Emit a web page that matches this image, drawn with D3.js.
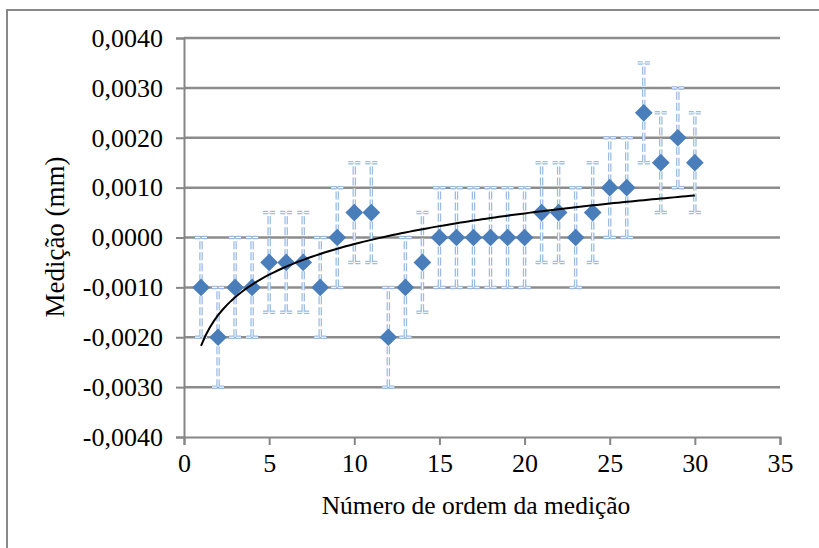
<!DOCTYPE html>
<html>
<head>
<meta charset="utf-8">
<script src="https://cdn.jsdelivr.net/npm/d3@7"></script>
<style>
  html, body { margin: 0; padding: 0; background: #fff; }
</style>
</head>
<body>
<svg id="chart" width="819" height="548"></svg>
<script>
// measurement order
const ordem = d3.range(1, 31);
// measured values (mm)
const medicao = [
  -0.0010, -0.0020, -0.0010, -0.0010, -0.0005, -0.0005, -0.0005, -0.0010, 0.0000, 0.0005,
   0.0005, -0.0020, -0.0010, -0.0005, 0.0000, 0.0000, 0.0000, 0.0000, 0.0000, 0.0000,
   0.0005, 0.0005, 0.0000, 0.0005, 0.0010, 0.0010, 0.0025, 0.0015, 0.0020, 0.0015
];
// error bar half-width (mm)
const erro = 0.0010;
const yTicks = [-0.004, -0.003, -0.002, -0.001, 0, 0.001, 0.002, 0.003, 0.004];
const xTicks = [0, 5, 10, 15, 20, 25, 30, 35];

const FONT = "'Liberation Serif', 'Times New Roman', 'DejaVu Serif', serif";
const svg = d3.select("#chart");

// outer chart border (only top/left visible, rest cropped)
svg.append("rect")
  .attr("x", 7).attr("y", 10)
  .attr("width", 830).attr("height", 560)
  .attr("fill", "none").attr("stroke", "#888").attr("stroke-width", 2);

const x = d3.scaleLinear().domain([0, 35]).range([184, 780]);
const y = d3.scaleLinear().domain([-0.004, 0.004]).range([437, 38]);

const fmt = v => d3.format(".4f")(v).replace(".", ",").replace("−", "-");

// gridlines
svg.append("g").selectAll("line").data(yTicks.filter(v => v !== -0.004)).enter()
  .append("line")
  .attr("x1", x(0)).attr("x2", x(35))
  .attr("y1", d => y(d)).attr("y2", d => y(d))
  .attr("stroke", "#8c8c8c").attr("stroke-width", 2.5);

// y axis
const yAxis = svg.append("g")
  .attr("transform", `translate(${x(0)},0)`)
  .call(d3.axisLeft(y).tickValues(yTicks).tickFormat(fmt).tickSize(8).tickPadding(13));
// x axis
const xAxis = svg.append("g")
  .attr("transform", `translate(0,${y(-0.004)})`)
  .call(d3.axisBottom(x).tickValues(xTicks).tickSize(8).tickPadding(9));

[yAxis, xAxis].forEach(g => {
  g.attr("font-family", null).attr("font-size", null);
  g.select(".domain").attr("stroke", "#868686").attr("stroke-width", 2);
  g.selectAll(".tick line").attr("stroke", "#868686").attr("stroke-width", 2);
  g.selectAll("text")
    .style("font-family", FONT)
    .style("font-size", "26px")
    .attr("fill", "#000");
});

// error bars
const bars = svg.append("g").selectAll("g").data(ordem).enter().append("g");
[["#9bbbe3", 3.5], ["#ffffff", 1]].forEach(([c, w]) => {
  bars.append("line")
    .attr("x1", d => x(d)).attr("x2", d => x(d))
    .attr("y1", (d, i) => y(medicao[i] - erro)).attr("y2", (d, i) => y(medicao[i] + erro))
    .attr("stroke", c).attr("stroke-width", w).attr("stroke-dasharray", "8,3");
  [-1, 1].forEach(s => {
    bars.append("line")
      .attr("x1", d => x(d) - 6).attr("x2", d => x(d) + 6)
      .attr("y1", (d, i) => y(medicao[i] + s * erro)).attr("y2", (d, i) => y(medicao[i] + s * erro))
      .attr("stroke", c).attr("stroke-width", w).attr("stroke-dasharray", "5,2");
  });
});

// diamonds
svg.append("g").selectAll("path").data(ordem).enter()
  .append("path")
  .attr("d", d3.symbol().type(d3.symbolDiamond2).size(200))
  .attr("transform", (d, i) => `translate(${x(d)},${y(medicao[i])})`)
  .attr("fill", "#4a7ebb");

// logarithmic trend line (least squares on ln x)
const lx = ordem.map(Math.log);
const mx = d3.mean(lx), my = d3.mean(medicao);
const b = d3.sum(lx, (v, i) => (v - mx) * (medicao[i] - my)) / d3.sum(lx, v => (v - mx) ** 2);
const a = my - b * mx;
const trendX = d3.range(1, 30.01, 0.25);
svg.append("path")
  .datum(trendX)
  .attr("d", d3.line().x(d => x(d)).y(d => y(a + b * Math.log(d))))
  .attr("fill", "none").attr("stroke", "#000").attr("stroke-width", 2);

// axis titles
svg.append("text")
  .attr("x", 476).attr("y", 514)
  .attr("text-anchor", "middle")
  .style("font-family", FONT)
  .style("font-size", "25.5px")
  .text("Número de ordem da medição");
svg.append("text")
  .attr("transform", "translate(64,237) rotate(-90)")
  .attr("text-anchor", "middle")
  .style("font-family", FONT)
  .style("font-size", "27px")
  .text("Medição (mm)");
</script>
</body>
</html>
